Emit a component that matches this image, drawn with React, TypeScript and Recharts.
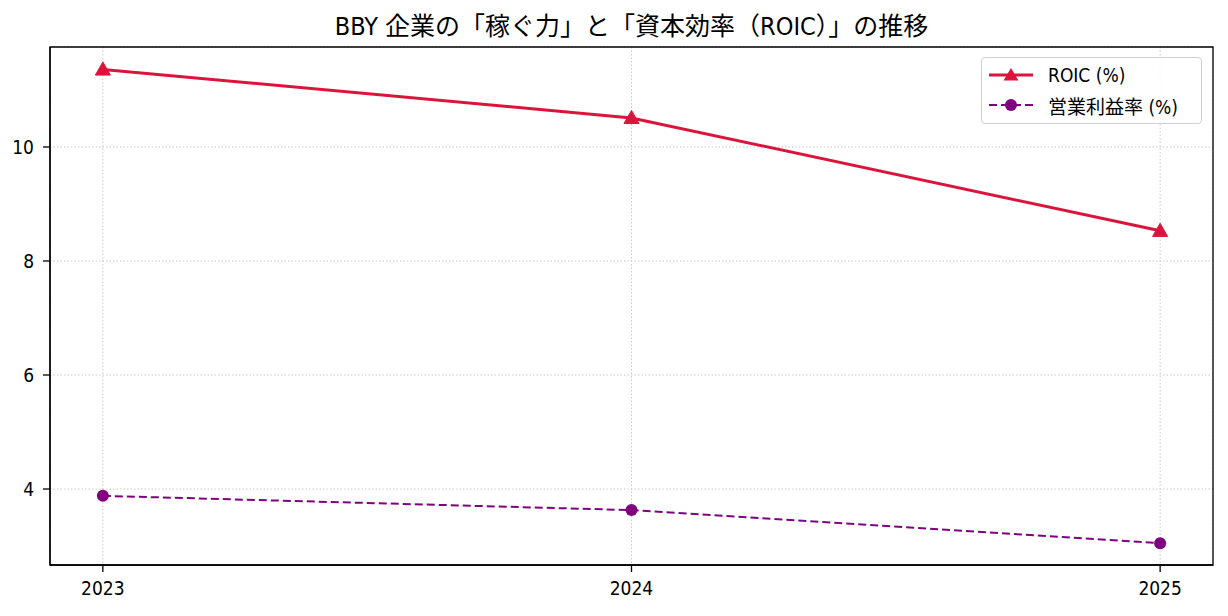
import React from 'react'
import {
  LineChart,
  Line,
  XAxis,
  YAxis,
  CartesianGrid,
  ReferenceArea,
} from 'recharts'

// データ
const years = [2023, 2024, 2025]
const roicValues = [11.36, 10.51, 8.53]
const opMarginValues = [3.88, 3.63, 3.05]
const yTicks = [4, 6, 8, 10]

const TITLE = 'BBY 企業の「稼ぐ力」と「資本効率（ROIC）」の推移'
const ROIC_LABEL = 'ROIC (%)'
const OP_LABEL = '営業利益率 (%)'

const FONT = "'DejaVu Sans Condensed', 'Noto Sans CJK JP', sans-serif"
const RED = '#dc143c'
const PURPLE = '#800080'

const data = years.map((y, i) => ({
  year: y,
  roic: roicValues[i],
  op: opMarginValues[i],
}))

const X_DOMAIN = [2022.9, 2025.1]
const Y_DOMAIN = [2.667, 11.754]

// 三角マーカー
const TriangleDot = (props: any) => {
  const { cx, cy } = props
  if (cx == null || cy == null) return null
  const s = 7.5
  return (
    <polygon
      points={`${cx},${cy - s} ${cx - s},${cy + s * 0.75} ${cx + s},${cy + s * 0.75}`}
      fill={RED}
      stroke={RED}
    />
  )
}

// 凡例
const LegendBox = () => (
  <div
    style={{
      position: 'absolute',
      left: 981,
      top: 57,
      width: 221,
      height: 67,
      border: '1px solid #d0d0d0',
      borderRadius: 4,
      background: 'rgba(255,255,255,0.85)',
      fontFamily: FONT,
      fontSize: 19,
      boxSizing: 'border-box',
      zIndex: 2,
    }}
  >
    <div style={{ display: 'flex', alignItems: 'center', height: 30, marginTop: 2 }}>
      <svg width={62} height={20}>
        <line x1={7} y1={10} x2={51} y2={10} stroke={RED} strokeWidth={3} />
        <polygon points="29,3 21.5,15.6 36.5,15.6" fill={RED} />
      </svg>
      <span style={{ marginLeft: 4 }}>{ROIC_LABEL}</span>
    </div>
    <div style={{ display: 'flex', alignItems: 'center', height: 30 }}>
      <svg width={62} height={20}>
        <line x1={7} y1={10} x2={51} y2={10} stroke={PURPLE} strokeWidth={2} strokeDasharray="8 4" />
        <circle cx={29} cy={10} r={6} fill={PURPLE} />
      </svg>
      <span style={{ marginLeft: 4 }}>{OP_LABEL}</span>
    </div>
  </div>
)

export default function App() {
  return (
    <div style={{ margin: -8, position: 'relative', width: 1228, height: 616, background: '#fff' }}>
      <div
        style={{
          position: 'absolute',
          top: 6,
          left: 0,
          width: 1263,
          textAlign: 'center',
          fontFamily: FONT,
          fontSize: 25,
          color: '#000',
          zIndex: 2,
        }}
      >
        {TITLE}
      </div>
      <LegendBox />
      <LineChart
        width={1228}
        height={616}
        data={data}
        margin={{ top: 47, right: 15, bottom: 0, left: 0 }}
      >
        <CartesianGrid stroke="#c8c8c8" strokeDasharray="1.5 2" strokeWidth={1} />
        <XAxis
          dataKey="year"
          type="number"
          domain={X_DOMAIN}
          ticks={years}
          allowDataOverflow
          height={51}
          tickSize={7}
          tickMargin={10}
          stroke="#000"
          tick={{ fill: '#000', fontSize: 19, fontFamily: FONT }}
          tickLine={{ stroke: '#000', strokeWidth: 1.3 }}
          axisLine={{ stroke: '#000', strokeWidth: 1.3 }}
        />
        <YAxis
          type="number"
          domain={Y_DOMAIN}
          ticks={yTicks}
          allowDataOverflow
          width={50}
          tickSize={7}
          tickMargin={9}
          stroke="#000"
          tick={{ fill: '#000', fontSize: 19, fontFamily: FONT }}
          tickLine={{ stroke: '#000', strokeWidth: 1.3 }}
          axisLine={{ stroke: '#000', strokeWidth: 1.3 }}
        />
        <ReferenceArea
          x1={X_DOMAIN[0]}
          x2={X_DOMAIN[1]}
          y1={Y_DOMAIN[0]}
          y2={Y_DOMAIN[1]}
          fill="none"
          stroke="#000"
          strokeWidth={1.3}
          ifOverflow="visible"
        />
        <Line
          type="linear"
          dataKey="roic"
          name={ROIC_LABEL}
          stroke={RED}
          strokeWidth={3}
          dot={<TriangleDot />}
          activeDot={false}
          isAnimationActive={false}
        />
        <Line
          type="linear"
          dataKey="op"
          name={OP_LABEL}
          stroke={PURPLE}
          strokeWidth={2}
          strokeDasharray="8 4"
          dot={{ r: 6, fill: PURPLE, stroke: PURPLE, strokeWidth: 0 }}
          activeDot={false}
          isAnimationActive={false}
        />
      </LineChart>
    </div>
  )
}
